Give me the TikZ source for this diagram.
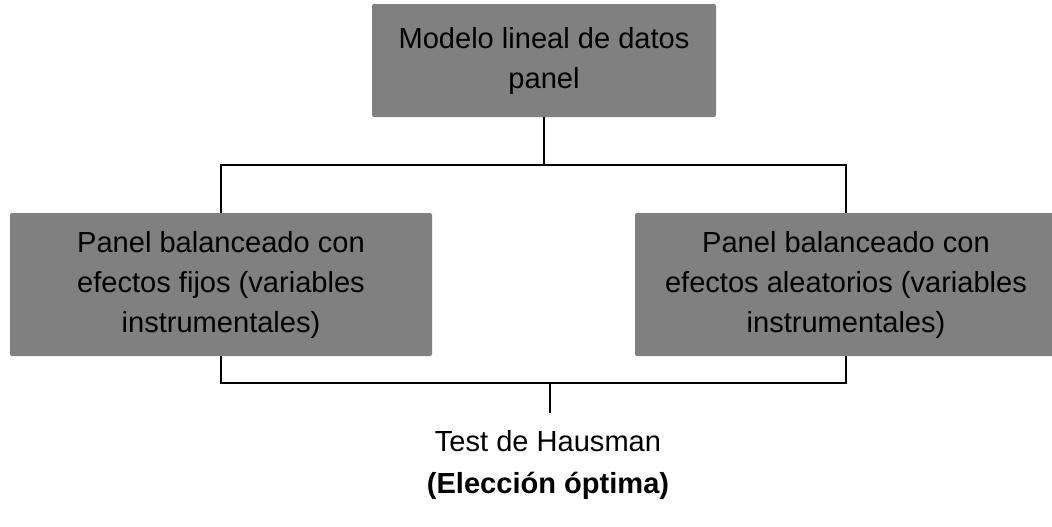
\documentclass[tikz,border=0pt]{standalone}
\usepackage{fontspec}
\setmainfont{Liberation Sans}
\definecolor{boxgray}{HTML}{808080}
\tikzset{
  boxnode/.style={fill=boxgray, rounded corners=1.5pt, align=center, inner sep=0pt,
    font=\fontsize{21.8pt}{30pt}\selectfont, text=black},
  plain/.style={align=center, inner sep=0pt, font=\fontsize{21.8pt}{30pt}\selectfont, text=black},
  conn/.style={draw=black, line width=1.5pt}
}
\begin{document}
\begin{tikzpicture}[x=0.75pt,y=-0.75pt]
\useasboundingbox (0,0) rectangle (1052,526);
\node[boxnode, minimum width=344*0.75pt, minimum height=113*0.75pt] (top) at (544,60.5)
  {Modelo lineal de datos\\panel};
\node[boxnode, minimum width=422*0.75pt, minimum height=143*0.75pt] (left) at (221,284.5)
  {Panel balanceado con\\efectos fijos (variables\\instrumentales)};
\node[boxnode, minimum width=422*0.75pt, minimum height=143*0.75pt] (right) at (846,284.5)
  {Panel balanceado con\\efectos aleatorios (variables\\instrumentales)};
\node[plain] (test) at (548,441) {Test de Hausman};
\node[plain, font=\fontsize{21.8pt}{30pt}\selectfont\bfseries] (elec) at (548,486) {(Elección óptima)};
\coordinate (j1) at (544,165);
\coordinate (j2) at (550,383);
\coordinate (s2) at (550,413);
\draw[conn] (top.south) -- (j1);
\draw[conn] (left.north) |- (j1) -| (right.north);
\draw[conn] (left.south) |- (j2) -| (right.south);
\draw[conn] (j2) -- (s2);
\end{tikzpicture}
\end{document}
